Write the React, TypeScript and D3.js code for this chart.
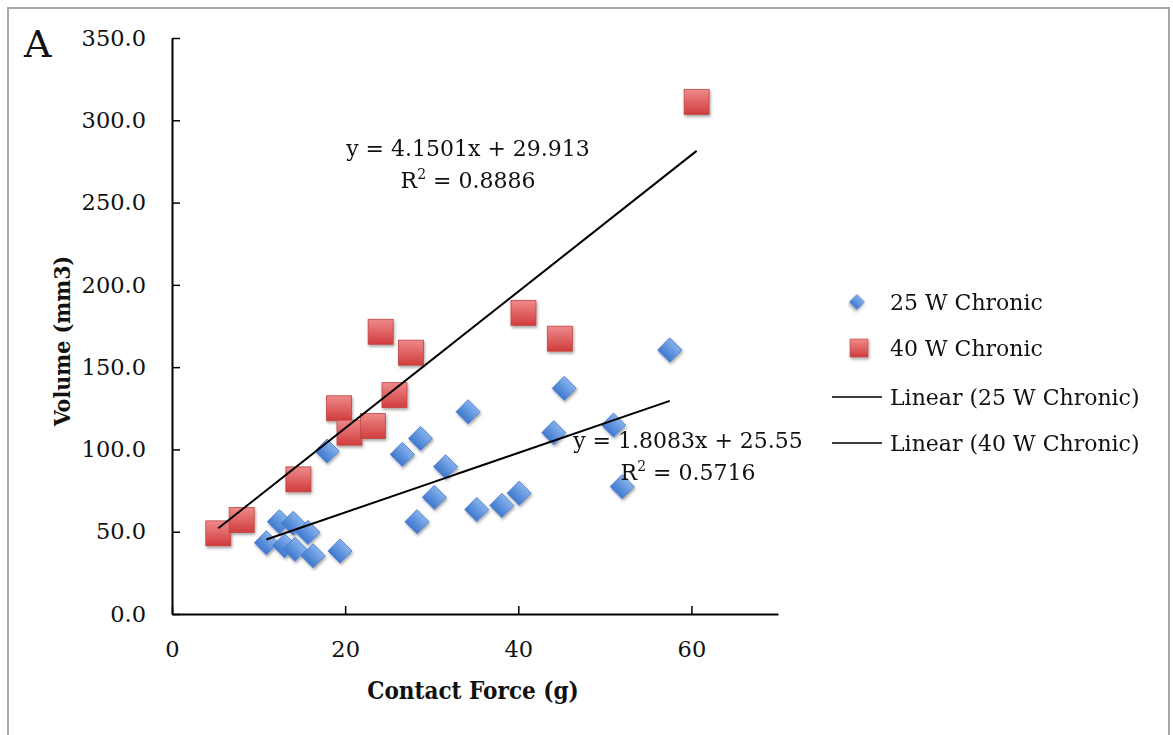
import React, { useRef, useEffect } from "react";
import * as d3 from "d3";

// 25 W Chronic (contact force g, volume mm3)
const force25 = [10.9, 12.4, 13.0, 14.0, 14.2, 15.7, 16.3, 19.4, 17.9, 26.6, 28.7, 31.6, 30.3, 28.3, 34.2, 35.2, 38.1, 40.1, 44.1, 45.3, 51.0, 52.0, 57.5];
const volume25 = [43.3, 56.1, 41.5, 55.1, 39.3, 49.6, 35.4, 38.3, 99.0, 97.0, 106.7, 89.5, 70.9, 56.1, 122.9, 63.5, 66.0, 73.4, 110.2, 137.1, 114.8, 77.4, 160.4];

// 40 W Chronic
const force40 = [5.35, 8.05, 14.6, 19.3, 20.5, 23.2, 24.1, 25.7, 27.6, 40.6, 44.8, 60.6];
const volume40 = [49.0, 57.1, 81.8, 125.0, 110.2, 114.2, 171.5, 133.0, 158.8, 183.0, 167.3, 311.2];

// trend line coefficients [slope, intercept]
const fit25 = [1.8083, 25.55];
const fit40 = [4.1501, 29.913];
const eq25 = ["y = 1.8083x + 25.55", "0.5716"];
const eq40 = ["y = 4.1501x + 29.913", "0.8886"];

const xTicks = [0, 20, 40, 60];
const yTicks = [0, 50, 100, 150, 200, 250, 300, 350];
const legendLabels = ["25 W Chronic", "40 W Chronic", "Linear (25 W Chronic)", "Linear (40 W Chronic)"];

const W = 1173;
const H = 735;
const FONT = "'DejaVu Serif', serif";
const FONT_COND = "'DejaVu Serif Condensed', 'DejaVu Serif', serif";

const App = () => {
	const ref = useRef(null);

	useEffect(() => {
		const svg = d3.select(ref.current);
		svg.selectAll("*").remove();

		const x = d3.scaleLinear().domain([0, 70]).range([172, 778]);
		const y = d3.scaleLinear().domain([0, 350]).range([614, 38]);

		// defs: gradients + shadow
		const defs = svg.append("defs");
		const gb = defs.append("linearGradient").attr("id", "gBlue").attr("x1", 0).attr("y1", 0).attr("x2", 0).attr("y2", 1);
		gb.append("stop").attr("offset", "0%").attr("stop-color", "#86b2ec");
		gb.append("stop").attr("offset", "100%").attr("stop-color", "#3f78cf");
		const gr = defs.append("linearGradient").attr("id", "gRed").attr("x1", 0).attr("y1", 0).attr("x2", 0).attr("y2", 1);
		gr.append("stop").attr("offset", "0%").attr("stop-color", "#ee8a8a");
		gr.append("stop").attr("offset", "100%").attr("stop-color", "#d13c3c");
		defs.append("filter").attr("id", "shadow").attr("x", "-50%").attr("y", "-50%").attr("width", "200%").attr("height", "200%")
			.append("feDropShadow").attr("dx", 1).attr("dy", 2).attr("stdDeviation", 1.5)
			.attr("flood-color", "#000").attr("flood-opacity", 0.35);

		// frame
		svg.append("rect")
			.attr("x", 8).attr("y", 8).attr("width", 1161).attr("height", 740)
			.attr("fill", "white").attr("stroke", "#a8a8a8").attr("stroke-width", 2);

		// axes
		const yAxis = d3.axisLeft(y).tickValues(yTicks).tickFormat(d3.format(".1f"))
			.tickSizeInner(-8).tickSizeOuter(0).tickPadding(26);
		const xAxis = d3.axisBottom(x).tickValues(xTicks).tickFormat(d3.format("d"))
			.tickSizeInner(-8).tickSizeOuter(0).tickPadding(27);

		const gy = svg.append("g").attr("transform", `translate(172,0)`).call(yAxis);
		const gx = svg.append("g").attr("transform", `translate(0,614)`).call(xAxis);
		[gx, gy].forEach(g => {
			g.select(".domain").attr("stroke", "#000").attr("stroke-width", 2);
			g.selectAll(".tick line").attr("stroke", "#000").attr("stroke-width", 1.5);
			g.selectAll("text").attr("font-family", FONT).attr("font-size", 22.5).attr("fill", "#111");
		});

		// axis titles
		svg.append("text")
			.attr("x", 473).attr("y", 699)
			.attr("text-anchor", "middle")
			.attr("font-family", FONT_COND).attr("font-stretch", "condensed")
			.attr("font-weight", "bold").attr("font-size", 24)
			.attr("fill", "#111")
			.text("Contact Force (g)");
		svg.append("text")
			.attr("transform", "translate(70,341) rotate(-90)")
			.attr("text-anchor", "middle")
			.attr("font-family", FONT_COND).attr("font-stretch", "condensed")
			.attr("font-weight", "bold").attr("font-size", 23)
			.attr("fill", "#111")
			.text("Volume (mm3)");

		svg.append("text")
			.attr("x", 24).attr("y", 57)
			.attr("font-family", FONT).attr("font-size", 38).attr("fill", "#111")
			.text("A");

		// trend lines
		const line = d3.line().x(d => x(d[0])).y(d => y(d[1]));
		const trend = (xs, fit) => {
			const [lo, hi] = d3.extent(xs);
			return [[lo, fit[0] * lo + fit[1]], [hi, fit[0] * hi + fit[1]]];
		};

		// markers
		const blue = force25.map((f, i) => [f, volume25[i]]);
		const red = force40.map((f, i) => [f, volume40[i]]);

		svg.append("g").attr("filter", "url(#shadow)")
			.selectAll("path")
			.data(blue)
			.join("path")
			.attr("d", d3.symbol().type(d3.symbolSquare).size(290))
			.attr("transform", d => `translate(${x(d[0])},${y(d[1])}) rotate(45)`)
			.attr("fill", "url(#gBlue)")
			.attr("stroke", "#4a7ccc").attr("stroke-width", 0.8);

		svg.append("g").attr("filter", "url(#shadow)")
			.selectAll("rect")
			.data(red)
			.join("rect")
			.attr("x", d => x(d[0]) - 12.5).attr("y", d => y(d[1]) - 12.5)
			.attr("width", 25).attr("height", 25)
			.attr("fill", "url(#gRed)")
			.attr("stroke", "#c04444").attr("stroke-width", 0.8);

		svg.append("path").datum(trend(force25, fit25))
			.attr("d", line).attr("fill", "none").attr("stroke", "#000").attr("stroke-width", 2);
		svg.append("path").datum(trend(force40, fit40))
			.attr("d", line).attr("fill", "none").attr("stroke", "#000").attr("stroke-width", 2);

		// equations
		const eq = (cx, by, lines) => {
			const t = svg.append("text").attr("font-family", FONT).attr("font-size", 22)
				.attr("fill", "#111").attr("text-anchor", "middle");
			t.append("tspan").attr("x", cx).attr("y", by).text(lines[0]);
			const t2 = t.append("tspan").attr("x", cx).attr("y", by + 32);
			t2.text("R");
			t2.append("tspan").attr("dy", -9).attr("font-size", 14).text("2");
			t2.append("tspan").attr("dy", 9).text(" = " + lines[1]);
		};
		eq(468, 156, eq40);
		eq(688, 448, eq25);

		// legend
		const lg = svg.append("g");
		const ly = [302, 348, 397, 443];
		legendLabels.forEach((lab, i) => {
			lg.append("text")
				.attr("x", 890).attr("y", ly[i] + 8)
				.attr("font-family", FONT).attr("font-size", 22).attr("fill", "#111")
				.text(lab);
		});
		lg.append("path")
			.attr("d", d3.symbol().type(d3.symbolSquare).size(110))
			.attr("transform", `translate(857,${ly[0]}) rotate(45)`)
			.attr("fill", "url(#gBlue)").attr("stroke", "#4a7ccc").attr("stroke-width", 0.6)
			.attr("filter", "url(#shadow)");
		lg.append("rect")
			.attr("x", 850).attr("y", ly[1] - 9).attr("width", 18).attr("height", 18)
			.attr("fill", "url(#gRed)").attr("stroke", "#c04444").attr("stroke-width", 0.6)
			.attr("filter", "url(#shadow)");
		[2, 3].forEach(i => {
			lg.append("line")
				.attr("x1", 832).attr("x2", 882).attr("y1", ly[i]).attr("y2", ly[i])
				.attr("stroke", "#000").attr("stroke-width", 1.5);
		});
	}, []);

	return (
		<svg ref={ref} width={W} height={H} style={{ position: "absolute", left: 0, top: 0 }}></svg>
	);
};

export default App;
